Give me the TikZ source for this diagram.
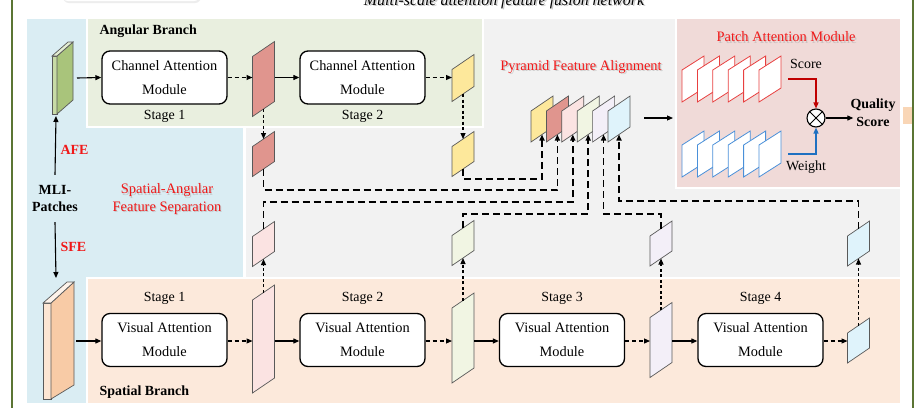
\documentclass[tikz,border=0pt]{standalone}
\usepackage{fontspec}
\setmainfont{Liberation Serif}
\usetikzlibrary{arrows.meta}
\newcommand\myfs[2]{\fontsize{#1}{#2}\selectfont}
\definecolor{cBlue}{HTML}{DAEDF3}
\definecolor{cGray}{HTML}{F2F2F2}
\definecolor{cGreenP}{HTML}{E9EFDF}
\definecolor{cPinkP}{HTML}{F0DAD8}
\definecolor{cOrgP}{HTML}{FCE9DB}
\definecolor{cOrgBox}{HTML}{F9D6B6}
\definecolor{cFrame}{HTML}{5B7534}
\definecolor{cYel}{HTML}{FDE89B}
\definecolor{cRed}{HTML}{E0958E}
\definecolor{cPk}{HTML}{FBE3E2}
\definecolor{cGr}{HTML}{F1F5E3}
\definecolor{cLv}{HTML}{F3EFF8}
\definecolor{cCy}{HTML}{DFF3FB}
\definecolor{cTxtRed}{HTML}{F01818}
\definecolor{cLineRed}{HTML}{C00000}
\definecolor{cLineBlue}{HTML}{1F70C1}
\definecolor{cPRed}{HTML}{E84040}
\definecolor{cPBlue}{HTML}{4A90D9}
\newcommand\fmap[5]{%
  \draw[mapline,fill=#5] (#2-11,#3-#4/2+7.5) -- (#2+11,#3-#4/2-7.5) -- (#2+11,#3+#4/2-7.5) -- (#2-11,#3+#4/2+7.5) -- cycle;
  \coordinate (#1t) at (#2,#3-#4/2);
  \coordinate (#1b) at (#2,#3+#4/2);
  \coordinate (#1w) at (#2-11,#3);
  \coordinate (#1e) at (#2+11,#3);
}
\begin{document}
\begin{tikzpicture}[x=1bp,y=-1bp,
  module/.style={draw, line width=1.3bp, rounded corners=8bp, fill=white, minimum width=125bp, minimum height=53bp, align=center, inner sep=0pt, font=\myfs{14.4}{24}},
  arr/.style={-{Triangle[length=6bp,width=5bp]}, line width=1.1bp},
  darr/.style={arr, dash pattern=on 4bp off 3bp},
  varr/.style={arr, dash pattern=on 3bp off 2.5bp},
  dline/.style={line width=1.5bp, dash pattern=on 7bp off 4bp, -{Triangle[length=6bp,width=5bp]}},
  mapline/.style={draw=black!65, line width=0.7bp},
  stagetxt/.style={font=\myfs{14}{16}},
  redtxt/.style={text=cTxtRed, font=\myfs{14.5}{18}, align=center},
  shadowtxt/.style={text=black!30, opacity=0.6, font=\myfs{14.5}{18}, align=center},
  boldtxt/.style={font=\bfseries\myfs{14}{17}, align=center},
  panel/.style={draw=white, line width=2bp}
]
\useasboundingbox (0,0) rectangle (918,408);
\clip (0,0) rectangle (918,408);
\fill[white] (0,0) rectangle (918,408);

% top partial box and title
\fill[black!7, rounded corners=6bp] (63,-30) rectangle (201,3);
\fill[white, rounded corners=6bp] (62,-30) rectangle (200,1);
\node[anchor=base, font=\itshape\myfs{16}{18}, text=black!35, opacity=0.6] (titleS) at (505.5,6.5) {Multi-scale attention feature fusion network};
\node[anchor=base, font=\itshape\myfs{16}{18}] (title) at (504,5) {Multi-scale attention feature fusion network};

% panels
\fill[cBlue] (27,19) rectangle (243,403);
\fill[cGray] (246,19) rectangle (900,277);
\draw[panel, fill=cGreenP] (87,18) rectangle (483,127);
\draw[panel, fill=cPinkP] (676,18) rectangle (901,188);
\draw[panel, fill=cOrgP] (87,278) rectangle (901,404);

% right side box and frame
\fill[cOrgBox] (903,107) rectangle (913,124);
\draw[cFrame, line width=2.5bp] (12,0) -- (12,408);
\draw[cFrame, line width=2.5bp] (913,0) -- (913,408);

% panel labels
\node[boldtxt, anchor=west] (angb) at (96,31) {Angular Branch};
\node[boldtxt, anchor=west] (spab) at (96,392) {Spatial Branch};

% cuboids
\draw[mapline, fill={rgb,255:red,200;green,219;blue,166}] (52,56) -- (57,56) -- (57,114) -- (52,114) -- cycle;
\draw[mapline, fill={rgb,255:red,169;green,196;blue,123}] (57,56) -- (73,42) -- (73,100) -- (57,114) -- cycle;
\draw[mapline, fill={rgb,255:red,227;green,237;blue,210}] (52,56) -- (68,42) -- (73,42) -- (57,56) -- cycle;
\coordinate (gcubE) at (77,78);
\coordinate (gcubB) at (56,116);
\draw[mapline, fill={rgb,255:red,253;green,230;blue,211}] (43,303) -- (51,303) -- (51,399) -- (43,399) -- cycle;
\draw[mapline, fill={rgb,255:red,248;green,203;blue,166}] (51,303) -- (74,282) -- (74,385) -- (51,399) -- cycle;
\draw[mapline, fill={rgb,255:red,254;green,243;blue,234}] (43,303) -- (67,282) -- (74,282) -- (51,303) -- cycle;
\coordinate (ocubE) at (76,341);
\coordinate (ocubT) at (56,278);

% MLI
\node[boldtxt, minimum height=47bp, inner sep=0pt] (mli) at (55,198.5) {MLI-\\Patches};
\draw[arr] (mli.north) -- (gcubB);
\draw[arr] (mli.south) -- (ocubT);
\node[font=\bfseries\myfs{14}{17}, text=cTxtRed, anchor=west] (afe) at (57,150) {AFE};
\node[font=\bfseries\myfs{14}{17}, text=cTxtRed, anchor=west] (sfe) at (57,247) {SFE};
\node[shadowtxt] (sasS) at (168,200.5) {Spatial-Angular\\Feature Separation};
\node[redtxt] (sas) at (167,199) {Spatial-Angular\\Feature Separation};

% angular modules
\node[module] (ca1) at (164.5,77.5) {Channel Attention\\Module};
\node[module] (ca2) at (362.5,77.5) {Channel Attention\\Module};
\node[stagetxt] (st1a) at (164.5,116) {Stage 1};
\node[stagetxt] (st2a) at (362.5,116) {Stage 2};

% spatial modules
\node[module] (va1) at (164.5,340) {Visual Attention\\Module};
\node[module] (va2) at (362.5,340) {Visual Attention\\Module};
\node[module] (va3) at (562,340) {Visual Attention\\Module};
\node[module] (va4) at (760.5,340) {Visual Attention\\Module};
\node[stagetxt] (st1) at (164.5,298) {Stage 1};
\node[stagetxt] (st2) at (362.5,298) {Stage 2};
\node[stagetxt] (st3) at (562,298) {Stage 3};
\node[stagetxt] (st4) at (760.5,298) {Stage 4};

% feature maps
\fmap{ra1}{263.5}{79}{60}{cRed}
\fmap{ya1}{463}{78}{32}{cYel}
\fmap{ra2}{263.5}{154}{30}{cRed}
\fmap{ya2}{463}{154}{30}{cYel}
\fmap{pk1}{263.5}{339}{93}{cPk}
\fmap{gr1}{463}{338}{75}{cGr}
\fmap{lv1}{661}{340}{60}{cLv}
\fmap{cy1}{858.5}{340.5}{30}{cCy}
\fmap{pk2}{263.5}{244}{30}{cPk}
\fmap{gr2}{463}{243}{30}{cGr}
\fmap{lv2}{661}{243.5}{30}{cLv}
\fmap{cy2}{858.5}{243.5}{30}{cCy}
\fmap{p1}{542}{119}{31}{cYel}
\fmap{p2}{557.4}{119}{31}{cRed}
\fmap{p3}{572.8}{119}{31}{cPk}
\fmap{p4}{588.2}{119}{31}{cGr}
\fmap{p5}{603.6}{119}{31}{cLv}
\fmap{p6}{619}{119}{31}{cCy}

% angular branch flow
\draw[arr] (gcubE) -- (ca1.west);
\draw[darr] (ca1.east) -- (ca1.east -| ra1w);
\draw[arr] (ca1.east -| ra1e) -- (ca2.west);
\draw[darr] (ca2.east) -- (ca2.east -| ya1w);
\draw[varr] (ra1b) -- (ra2t);
\draw[varr] (ya1b) -- (ya2t);

% spatial branch flow
\draw[arr] (ocubE) -- (ocubE -| va1.west);
\draw[darr] (va1.east |- ocubE) -- (ocubE -| pk1w);
\draw[arr] (ocubE -| pk1e) -- (ocubE -| va2.west);
\draw[darr] (va2.east |- ocubE) -- (ocubE -| gr1w);
\draw[arr] (ocubE -| gr1e) -- (ocubE -| va3.west);
\draw[darr] (va3.east |- ocubE) -- (ocubE -| lv1w);
\draw[arr] (ocubE -| lv1e) -- (ocubE -| va4.west);
\draw[darr] (va4.east |- ocubE) -- (ocubE -| cy1w);
\draw[varr] (pk1t) -- (pk2b);
\draw[varr] (gr1t) -- (gr2b);
\draw[varr] (lv1t) -- (lv2b);
\draw[varr] (cy1t) -- (cy2b);

% pyramid connectors
\draw[dline] (ya2b) -- ++(0,10) -| (p1b);
\draw[dline] (ra2b) -- ++(0,21) -| (p2b);
\draw[dline] (pk2t) -- ++(0,-27) -| (p3b);
\draw[dline] (gr2t) -- ++(0,-14) -| (p4b);
\draw[dline] (lv2t) -- ++(0,-14.5) -| (p5b);
\draw[dline] (cy2t) -- ++(0,-27.5) -| (p6b);

\node[shadowtxt] (pfaS) at (582.5,68.5) {Pyramid Feature Alignment};
\node[redtxt] (pfa) at (581,67) {Pyramid Feature Alignment};
\coordinate (pyrE) at (644,118);
\coordinate (pamW) at (673,118);
\draw[arr] (pyrE) -- (pamW);

% patch attention module
\node[shadowtxt] (pamS) at (787.5,38.5) {Patch Attention Module};
\node[redtxt] (pam) at (786,37) {Patch Attention Module};
\foreach \i in {0,...,5} {
  \pgfmathsetmacro\L{682+15.4*\i}
  \draw[draw=cPRed, line width=0.8bp, fill=white] (\L,70) -- (\L+22,56) -- (\L+22,88) -- (\L,102) -- cycle;
  \draw[draw=cPBlue, line width=0.8bp, fill=white] (\L,145) -- (\L+22,131) -- (\L+22,163) -- (\L,177) -- cycle;
}
\node[font=\myfs{14}{16}] (score) at (806,64) {Score};
\node[font=\myfs{14}{16}] (weight) at (806,167) {Weight};
\node[circle, draw, line width=1.1bp, fill=white, minimum size=18bp, inner sep=0pt] (ot) at (816,118) {};
\draw[line width=1bp] (ot.north west) -- (ot.south east);
\draw[line width=1bp] (ot.north east) -- (ot.south west);
\coordinate (scS) at (788,79);
\coordinate (wtS) at (788,154);
\draw[cLineRed, line width=1.3bp, -{Triangle[length=6bp,width=5bp]}] (scS) -| (ot.north);
\draw[cLineBlue, line width=1.3bp, -{Triangle[length=6bp,width=5bp]}] (wtS) -| (ot.south);
\node[font=\bfseries\myfs{14}{18}, align=center, inner sep=0pt] (qs) at (873,113) {Quality\\Score};
\draw[arr] (ot.east) -- ([xshift=3bp]qs.west |- ot.east);
\end{tikzpicture}
\end{document}
